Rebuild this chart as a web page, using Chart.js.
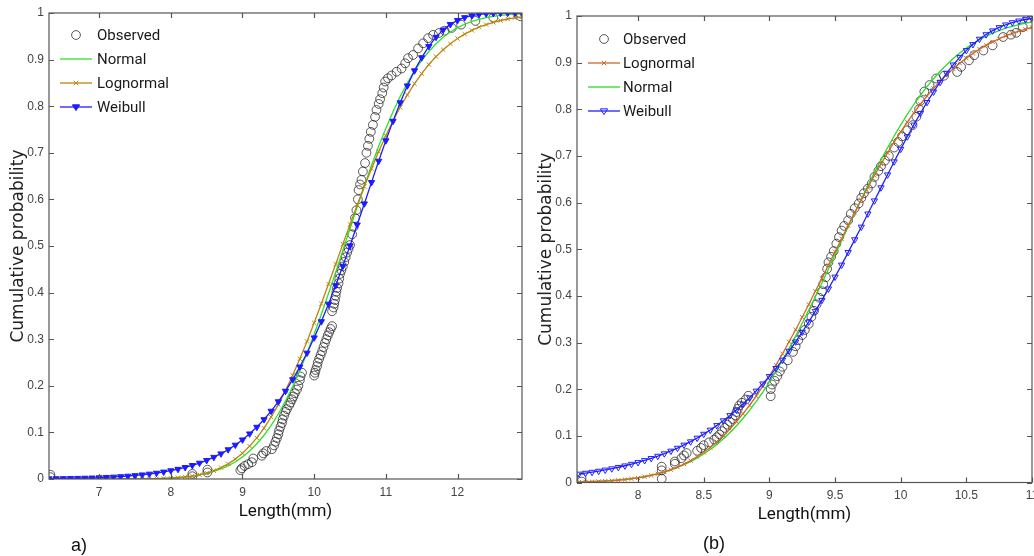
<!DOCTYPE html>
<html>
<head>
<meta charset="utf-8">
<title>Cumulative probability – length fits</title>
<script src="https://cdn.jsdelivr.net/npm/chart.js@4.4.0/dist/chart.umd.min.js"></script>
<style>
  html, body { margin: 0; padding: 0; background: #fff; overflow: hidden; width: 1034px; height: 556px; }
  #wrapA { position: absolute; left: 0; top: 0; width: 530px; height: 556px; }
  #wrapB { position: absolute; left: 530px; top: 0; width: 540px; height: 556px; }
  .tag { position: absolute; font-family: "Liberation Sans", Arial, sans-serif; font-size: 18px; line-height: 1; color: #111; }
</style>
</head>
<body>
<div id="wrapA"><canvas id="chartA"></canvas></div>
<div id="wrapB"><canvas id="chartB"></canvas></div>
<div class="tag" style="left:71px;top:536px">a)</div>
<div class="tag" style="left:703px;top:534px">(b)</div>

<script>
// ---- panel a) : fitted curves on a common length grid (mm)
const xsA = [6.3,6.4,6.5,6.6,6.7,6.8,6.9,7.0,7.1,7.2,7.3,7.4,7.5,7.6,7.7,7.8,7.9,
  8.0,8.1,8.2,8.3,8.4,8.5,8.6,8.7,8.8,8.9,9.0,9.1,9.2,9.3,9.4,9.5,9.6,9.7,9.8,9.9,
  10.0,10.1,10.2,10.3,10.4,10.5,10.6,10.7,10.8,10.9,11.0,11.1,11.2,11.3,11.4,11.5,11.6,11.7,11.8,11.9,
  12.0,12.1,12.2,12.3,12.4,12.5,12.6,12.7,12.8,12.9];
const normalA = [0,0,0,0,0,0,0,0,0.0001,0.0001,0.0001,0.0002,0.0003,0.0005,0.0007,0.0010,0.0015,
  0.0022,0.0032,0.0045,0.0063,0.0088,0.0120,0.0162,0.0215,0.0283,0.0369,
  0.0474,0.0603,0.0757,0.0938,0.1151,0.1395,0.1673,0.1986,0.2330,0.2704,
  0.3106,0.3535,0.3980,0.4440,0.4906,0.5375,0.5838,0.6290,0.6726,0.7139,
  0.7524,0.7881,0.8207,0.8497,0.8756,0.8981,0.9175,0.9340,0.9478,0.9592,
  0.9685,0.9759,0.9819,0.9865,0.9901,0.9928,0.9948,0.9963,0.9974,0.9982];
const lognormalA = [0,0,0,0,0,0,0,0,0,0,0,0,0.0001,0.0003,0.0004,0.0007,0.0012,
  0.0018,0.0028,0.0043,0.0063,0.0091,0.0128,0.0178,0.0243,0.0325,0.0428,
  0.0551,0.0705,0.0882,0.1090,0.1330,0.1597,0.1897,0.2225,0.2578,0.2953,
  0.3352,0.3761,0.4186,0.4610,0.5040,0.5464,0.5879,0.6276,0.6660,0.7027,
  0.7367,0.7683,0.7977,0.8244,0.8485,0.8700,0.8894,0.9064,0.9212,0.9340,
  0.9452,0.9547,0.9627,0.9696,0.9752,0.9800,0.9839,0.9871,0.9897,0.9919];
const weibullA = [0.0007,0.0009,0.0011,0.0014,0.0017,0.0021,0.0025,0.0030,0.0037,0.0044,0.0053,0.0064,0.0076,0.0091,0.0108,0.0128,0.0152,
  0.0180,0.0212,0.0250,0.0293,0.0343,0.0401,0.0468,0.0543,0.0631,0.0730,
  0.0842,0.0971,0.1114,0.1277,0.1458,0.1661,0.1886,0.2134,0.2408,0.2705,
  0.3032,0.3379,0.3756,0.4151,0.4570,0.5007,0.5456,0.5908,0.6366,0.6823,
  0.7261,0.7680,0.8076,0.8439,0.8763,0.9044,0.9285,0.9482,0.9638,0.9756,
  0.9843,0.9904,0.9944,0.9969,0.9984,0.9992,0.9996,0.9998,0.9999,1.0000];

// observed empirical CDF, panel a)
const obsA_x = [6.32,6.32,8.30,8.30,8.51,8.51,8.97,8.99,9.03,9.08,9.13,9.15,9.27,9.29,9.33,9.41,9.44,9.46,9.48,9.50,
  9.51,9.53,9.55,9.56,9.58,9.60,9.62,9.65,9.67,9.69,9.71,9.73,9.76,9.78,9.80,9.81,9.83,
  10.00,10.01,10.02,10.04,10.05,10.07,10.09,10.11,10.13,10.15,10.17,10.19,10.21,10.23,10.25,
  10.25,10.27,10.28,10.29,10.30,10.31,10.32,10.34,10.35,10.36,10.38,10.40,10.42,10.44,10.46,10.48,10.50,
  10.53,10.55,10.57,10.59,10.61,10.62,10.64,10.66,10.68,10.71,10.73,10.75,10.77,10.79,10.82,10.85,10.87,
  10.90,10.92,10.95,10.97,10.99,11.03,11.08,11.15,11.22,11.27,11.31,11.38,11.45,11.52,11.59,11.66,
  11.74,11.82,11.92,12.05,12.25,12.50,12.88,12.88];
const obsA_y = [0.004,0.009,0.006,0.011,0.014,0.020,0.019,0.023,0.028,0.032,0.036,0.044,0.050,0.055,0.060,0.064,0.072,0.080,0.088,0.096,
  0.104,0.112,0.120,0.128,0.136,0.144,0.150,0.158,0.164,0.171,0.177,0.184,0.192,0.200,0.212,0.220,0.228,
  0.222,0.228,0.234,0.242,0.250,0.258,0.266,0.274,0.283,0.292,0.300,0.308,0.315,0.322,0.328,
  0.360,0.368,0.376,0.384,0.393,0.402,0.410,0.420,0.430,0.440,0.448,0.456,0.466,0.476,0.486,0.494,0.502,
  0.525,0.541,0.560,0.577,0.600,0.620,0.632,0.642,0.660,0.678,0.700,0.715,0.730,0.745,0.760,0.777,0.792,
  0.805,0.815,0.828,0.840,0.853,0.860,0.866,0.874,0.881,0.892,0.903,0.910,0.924,0.935,0.946,0.953,
  0.957,0.962,0.968,0.975,0.983,0.990,0.993,0.999];

// ---- panel (b)
const xsB = [7.55,7.60,7.65,7.70,7.75,7.80,7.85,7.90,7.95,
  8.00,8.05,8.10,8.15,8.20,8.25,8.30,8.35,8.40,8.45,8.50,8.55,8.60,8.65,8.70,8.75,8.80,8.85,8.90,8.95,
  9.00,9.05,9.10,9.15,9.20,9.25,9.30,9.35,9.40,9.45,9.50,9.55,9.60,9.65,9.70,9.75,9.80,9.85,9.90,9.95,
  10.00,10.05,10.10,10.15,10.20,10.25,10.30,10.35,10.40,10.45,10.50,10.55,10.60,10.65,10.70,10.75,10.80,10.85,10.90,10.95,
  11.00];
const normalB = [0.0014,0.0018,0.0023,0.0029,0.0037,0.0046,0.0057,0.0070,0.0087,
  0.0106,0.0130,0.0157,0.0190,0.0228,0.0272,0.0323,0.0381,0.0449,0.0525,
  0.0612,0.0708,0.0817,0.0938,0.1071,0.1217,0.1377,0.1551,0.1739,0.1938,
  0.2154,0.2382,0.2624,0.2875,0.3138,0.3413,0.3695,0.3983,0.4278,0.4578,
  0.4880,0.5181,0.5483,0.5781,0.6076,0.6361,0.6643,0.6915,0.7176,0.7428,
  0.7664,0.7890,0.8103,0.8301,0.8485,0.8656,0.8815,0.8957,0.9088,0.9206,
  0.9312,0.9407,0.9491,0.9566,0.9631,0.9688,0.9738,0.9780,0.9817,0.9849,
  0.9875];
const lognormalB = [0.0009,0.0012,0.0016,0.0022,0.0029,0.0037,0.0048,0.0061,0.0078,
  0.0097,0.0122,0.0151,0.0186,0.0226,0.0274,0.0331,0.0395,0.0468,0.0553,
  0.0648,0.0752,0.0872,0.1003,0.1146,0.1305,0.1475,0.1656,0.1854,0.2063,
  0.2282,0.2518,0.2760,0.3016,0.3274,0.3542,0.3817,0.4098,0.4376,0.4661,
  0.4946,0.5226,0.5511,0.5789,0.6057,0.6323,0.6580,0.6830,0.7065,0.7297,
  0.7517,0.7725,0.7921,0.8108,0.8281,0.8447,0.8595,0.8739,0.8867,0.8987,
  0.9097,0.9197,0.9289,0.9371,0.9444,0.9512,0.9572,0.9626,0.9675,0.9716,
  0.9754];
const weibullB = [0.0183,0.0202,0.0223,0.0246,0.0270,0.0297,0.0327,0.0359,0.0394,
  0.0431,0.0473,0.0518,0.0566,0.0619,0.0676,0.0738,0.0805,0.0876,0.0954,
  0.1038,0.1126,0.1224,0.1327,0.1438,0.1557,0.1684,0.1818,0.1963,0.2116,
  0.2275,0.2448,0.2627,0.2818,0.3017,0.3225,0.3443,0.3673,0.3908,0.4153,
  0.4407,0.4664,0.4934,0.5207,0.5478,0.5760,0.6040,0.6321,0.6597,0.6877,
  0.7147,0.7413,0.7666,0.7916,0.8151,0.8375,0.8580,0.8777,0.8954,0.9117,
  0.9263,0.9391,0.9506,0.9603,0.9685,0.9755,0.9812,0.9860,0.9896,0.9925,
  0.9947];

const obsB_x = [7.57,7.57,8.18,8.18,8.18,8.28,8.28,8.33,8.35,8.37,8.45,8.48,8.50,8.54,8.58,8.60,8.62,8.64,8.66,8.68,
  8.70,8.72,8.74,8.75,8.76,8.77,8.79,8.82,8.84,9.01,9.01,9.02,9.04,9.06,9.08,9.10,9.14,9.18,9.20,9.22,
  9.25,9.27,9.30,9.32,9.34,9.36,9.38,9.40,9.41,9.43,9.44,9.45,9.47,9.49,9.51,9.53,9.55,9.57,9.60,9.62,
  9.65,9.68,9.70,9.72,9.75,9.78,9.80,9.83,9.85,9.88,9.91,9.95,9.98,10.01,10.05,10.09,10.12,10.14,10.15,10.18,
  10.22,10.27,10.33,10.43,10.46,10.52,10.56,10.63,10.70,10.78,10.84,10.88,10.93,10.97];
const obsB_y = [0.002,0.009,0.008,0.026,0.034,0.040,0.045,0.052,0.058,0.063,0.068,0.074,0.080,0.086,0.092,0.097,0.103,0.110,0.117,0.124,
  0.130,0.136,0.144,0.151,0.158,0.165,0.171,0.178,0.186,0.185,0.200,0.210,0.218,0.228,0.238,0.248,0.262,0.280,0.292,0.305,
  0.316,0.327,0.340,0.355,0.368,0.382,0.396,0.410,0.425,0.440,0.458,0.472,0.484,0.496,0.512,0.526,0.540,0.550,0.562,0.576,
  0.588,0.598,0.610,0.620,0.630,0.641,0.655,0.668,0.678,0.690,0.700,0.718,0.730,0.742,0.755,0.766,0.784,0.800,0.818,0.838,
  0.852,0.866,0.872,0.880,0.891,0.905,0.916,0.926,0.937,0.955,0.960,0.964,0.976,0.995];

const yTicks = [0,0.1,0.2,0.3,0.4,0.5,0.6,0.7,0.8,0.9,1];

// helpers
const pts = (xs, ys) => xs.map((x, i) => ({ x, y: ys[i] }));
const fmt = v => String(+(+v).toFixed(2));
const tickFont = { family: '"Liberation Sans", Arial, sans-serif', size: 12 };
const narrow = 'Roboto, "Liberation Sans", sans-serif';

function drawMarker(ctx, ds, x, y) {
  const r = ds.pointRadius;
  if (!r) return;
  ctx.save();
  ctx.lineWidth = ds.pointBorderWidth || 1;
  ctx.strokeStyle = ds.pointBorderColor || ds.borderColor;
  ctx.fillStyle = ds.pointBackgroundColor || 'rgba(0,0,0,0)';
  ctx.beginPath();
  if (ds.pointStyle === 'circle') {
    ctx.arc(x, y, r, 0, Math.PI * 2);
  } else if (ds.pointStyle === 'crossRot') {
    const d = r * 0.75;
    ctx.moveTo(x - d, y - d); ctx.lineTo(x + d, y + d);
    ctx.moveTo(x + d, y - d); ctx.lineTo(x - d, y + d);
  } else if (ds.pointStyle === 'triangle') {
    ctx.moveTo(x - r, y - r * 0.6); ctx.lineTo(x + r, y - r * 0.6); ctx.lineTo(x, y + r); ctx.closePath();
  }
  if (ds.pointStyle !== 'crossRot') ctx.fill();
  ctx.stroke();
  ctx.restore();
}

// legend drawn inside the plot box, MATLAB style
const insideLegend = {
  id: 'insideLegend',
  afterDraw(chart, args, o) {
    const { ctx, chartArea: a } = chart;
    ctx.save();
    ctx.font = o.font;
    ctx.textBaseline = 'middle';
    chart.data.datasets.forEach((ds, i) => {
      const y = a.top + o.rowTop + i * o.rowGap;
      const x0 = a.left + o.lineStart, x1 = x0 + o.lineLen;
      if (ds.showLine) {
        ctx.strokeStyle = ds.borderColor;
        ctx.lineWidth = ds.borderWidth;
        ctx.beginPath(); ctx.moveTo(x0, y); ctx.lineTo(x1, y); ctx.stroke();
      }
      drawMarker(ctx, ds, (x0 + x1) / 2, y);
      ctx.fillStyle = '#1a1a1a';
      ctx.fillText(ds.label, x1 + o.textGap, y + 1);
    });
    ctx.restore();
  }
};

// box with inward ticks on all four sides
const boxTicks = {
  id: 'boxTicks',
  afterDatasetsDraw(chart) {
    const { ctx, chartArea: a, scales: { x, y } } = chart;
    const L = 5;
    ctx.save();
    ctx.strokeStyle = '#555';
    ctx.lineWidth = 1.2;
    ctx.strokeRect(a.left, a.top, a.right - a.left, a.bottom - a.top);
    ctx.beginPath();
    x.ticks.forEach(t => {
      const px = Math.round(x.getPixelForValue(t.value)) + 0.5;
      ctx.moveTo(px, a.bottom); ctx.lineTo(px, a.bottom - L);
      ctx.moveTo(px, a.top); ctx.lineTo(px, a.top + L);
    });
    y.ticks.forEach(t => {
      const py = Math.round(y.getPixelForValue(t.value)) + 0.5;
      ctx.moveTo(a.left, py); ctx.lineTo(a.left + L, py);
      ctx.moveTo(a.right, py); ctx.lineTo(a.right - L, py);
    });
    ctx.stroke();
    ctx.restore();
  }
};

function observed(xs, ys) {
  return { label: 'Observed', data: pts(xs, ys), showLine: false, order: 4,
    pointStyle: 'circle', pointRadius: 4.4, pointBorderWidth: 1,
    pointBorderColor: 'rgba(35,35,35,0.75)', pointBackgroundColor: 'rgba(0,0,0,0)', borderColor: '#333' };
}
function normal(xs, ys, color) {
  return { label: 'Normal', data: pts(xs, ys), showLine: true, order: 3,
    borderColor: color, borderWidth: 1.3, pointRadius: 0 };
}
function lognormal(xs, ys, color) {
  return { label: 'Lognormal', data: pts(xs, ys), showLine: true, order: 2,
    borderColor: color, borderWidth: 1.3, pointStyle: 'crossRot', pointRadius: 3,
    pointBorderColor: color, pointBorderWidth: 1 };
}
function weibull(xs, ys, color, fill) {
  return { label: 'Weibull', data: pts(xs, ys), showLine: true, order: 1,
    borderColor: color, borderWidth: 1.3, pointStyle: 'triangle', pointRotation: 180, pointRadius: 3.6,
    pointBorderColor: color, pointBorderWidth: 1, pointBackgroundColor: fill };
}

function makeOptions(cfg) {
  return {
    responsive: true,
    maintainAspectRatio: false,
    animation: false,
    events: [],
    layout: { padding: { left: 0, top: cfg.top, right: cfg.right, bottom: 0 } },
    plugins: {
      legend: { display: false },
      tooltip: { enabled: false },
      insideLegend: { font: '15px ' + narrow, rowTop: cfg.rowTop, rowGap: 24, lineStart: 11, lineLen: 32, textGap: cfg.textGap }
    },
    scales: {
      x: {
        type: 'linear', min: cfg.xmin, max: cfg.xmax,
        afterFit: s => { s.height = cfg.xAxisH; },
        grid: { display: false, drawTicks: false }, border: { display: false },
        ticks: { stepSize: cfg.xstep, includeBounds: false, autoSkip: false, maxRotation: 0,
          padding: 6, color: '#444', font: tickFont, callback: fmt },
        title: { display: true, text: 'Length(mm)', color: '#111',
          font: { family: narrow, size: 17 }, padding: { top: 0, bottom: cfg.xTitlePad } }
      },
      y: {
        type: 'linear', min: 0, max: 1,
        afterFit: s => { s.width = cfg.yAxisW; },
        afterBuildTicks: s => { s.ticks = yTicks.map(v => ({ value: v })); },
        grid: { display: false, drawTicks: false }, border: { display: false },
        ticks: { autoSkip: false, padding: 5, color: '#444', font: tickFont, callback: fmt },
        title: { display: true, text: 'Cumulative probability', color: '#222',
          font: { family: '"DejaVu Sans", Verdana, sans-serif', size: 17 }, padding: { top: cfg.yTitlePad, bottom: 0 } }
      }
    }
  };
}

new Chart(document.getElementById('chartA'), {
  type: 'scatter',
  data: { datasets: [
    observed(obsA_x, obsA_y),
    normal(xsA, normalA, '#2be32b'),
    lognormal(xsA, lognormalA, '#b8860b'),
    weibull(xsA, weibullA, '#1c1cff', '#1c1cff')
  ] },
  options: makeOptions({ top: 13, right: 8, xmin: 6.3, xmax: 12.9, xstep: 1, xAxisH: 77, yAxisW: 49,
    xTitlePad: 34, yTitlePad: 8, rowTop: 22, textGap: 5 }),
  plugins: [boxTicks, insideLegend]
});

new Chart(document.getElementById('chartB'), {
  type: 'scatter',
  data: { datasets: [
    observed(obsB_x, obsB_y),
    lognormal(xsB, lognormalB, '#cd6a2a'),
    normal(xsB, normalB, '#25de25'),
    weibull(xsB, weibullB, '#2020ff', 'rgba(255,255,255,0)')
  ] },
  options: makeOptions({ top: 16, right: 38, xmin: 7.535, xmax: 11, xstep: 0.5, xAxisH: 73.5, yAxisW: 47,
    xTitlePad: 31, yTitlePad: 6, rowTop: 23, textGap: 3 }),
  plugins: [boxTicks, insideLegend]
});
</script>
</body>
</html>
